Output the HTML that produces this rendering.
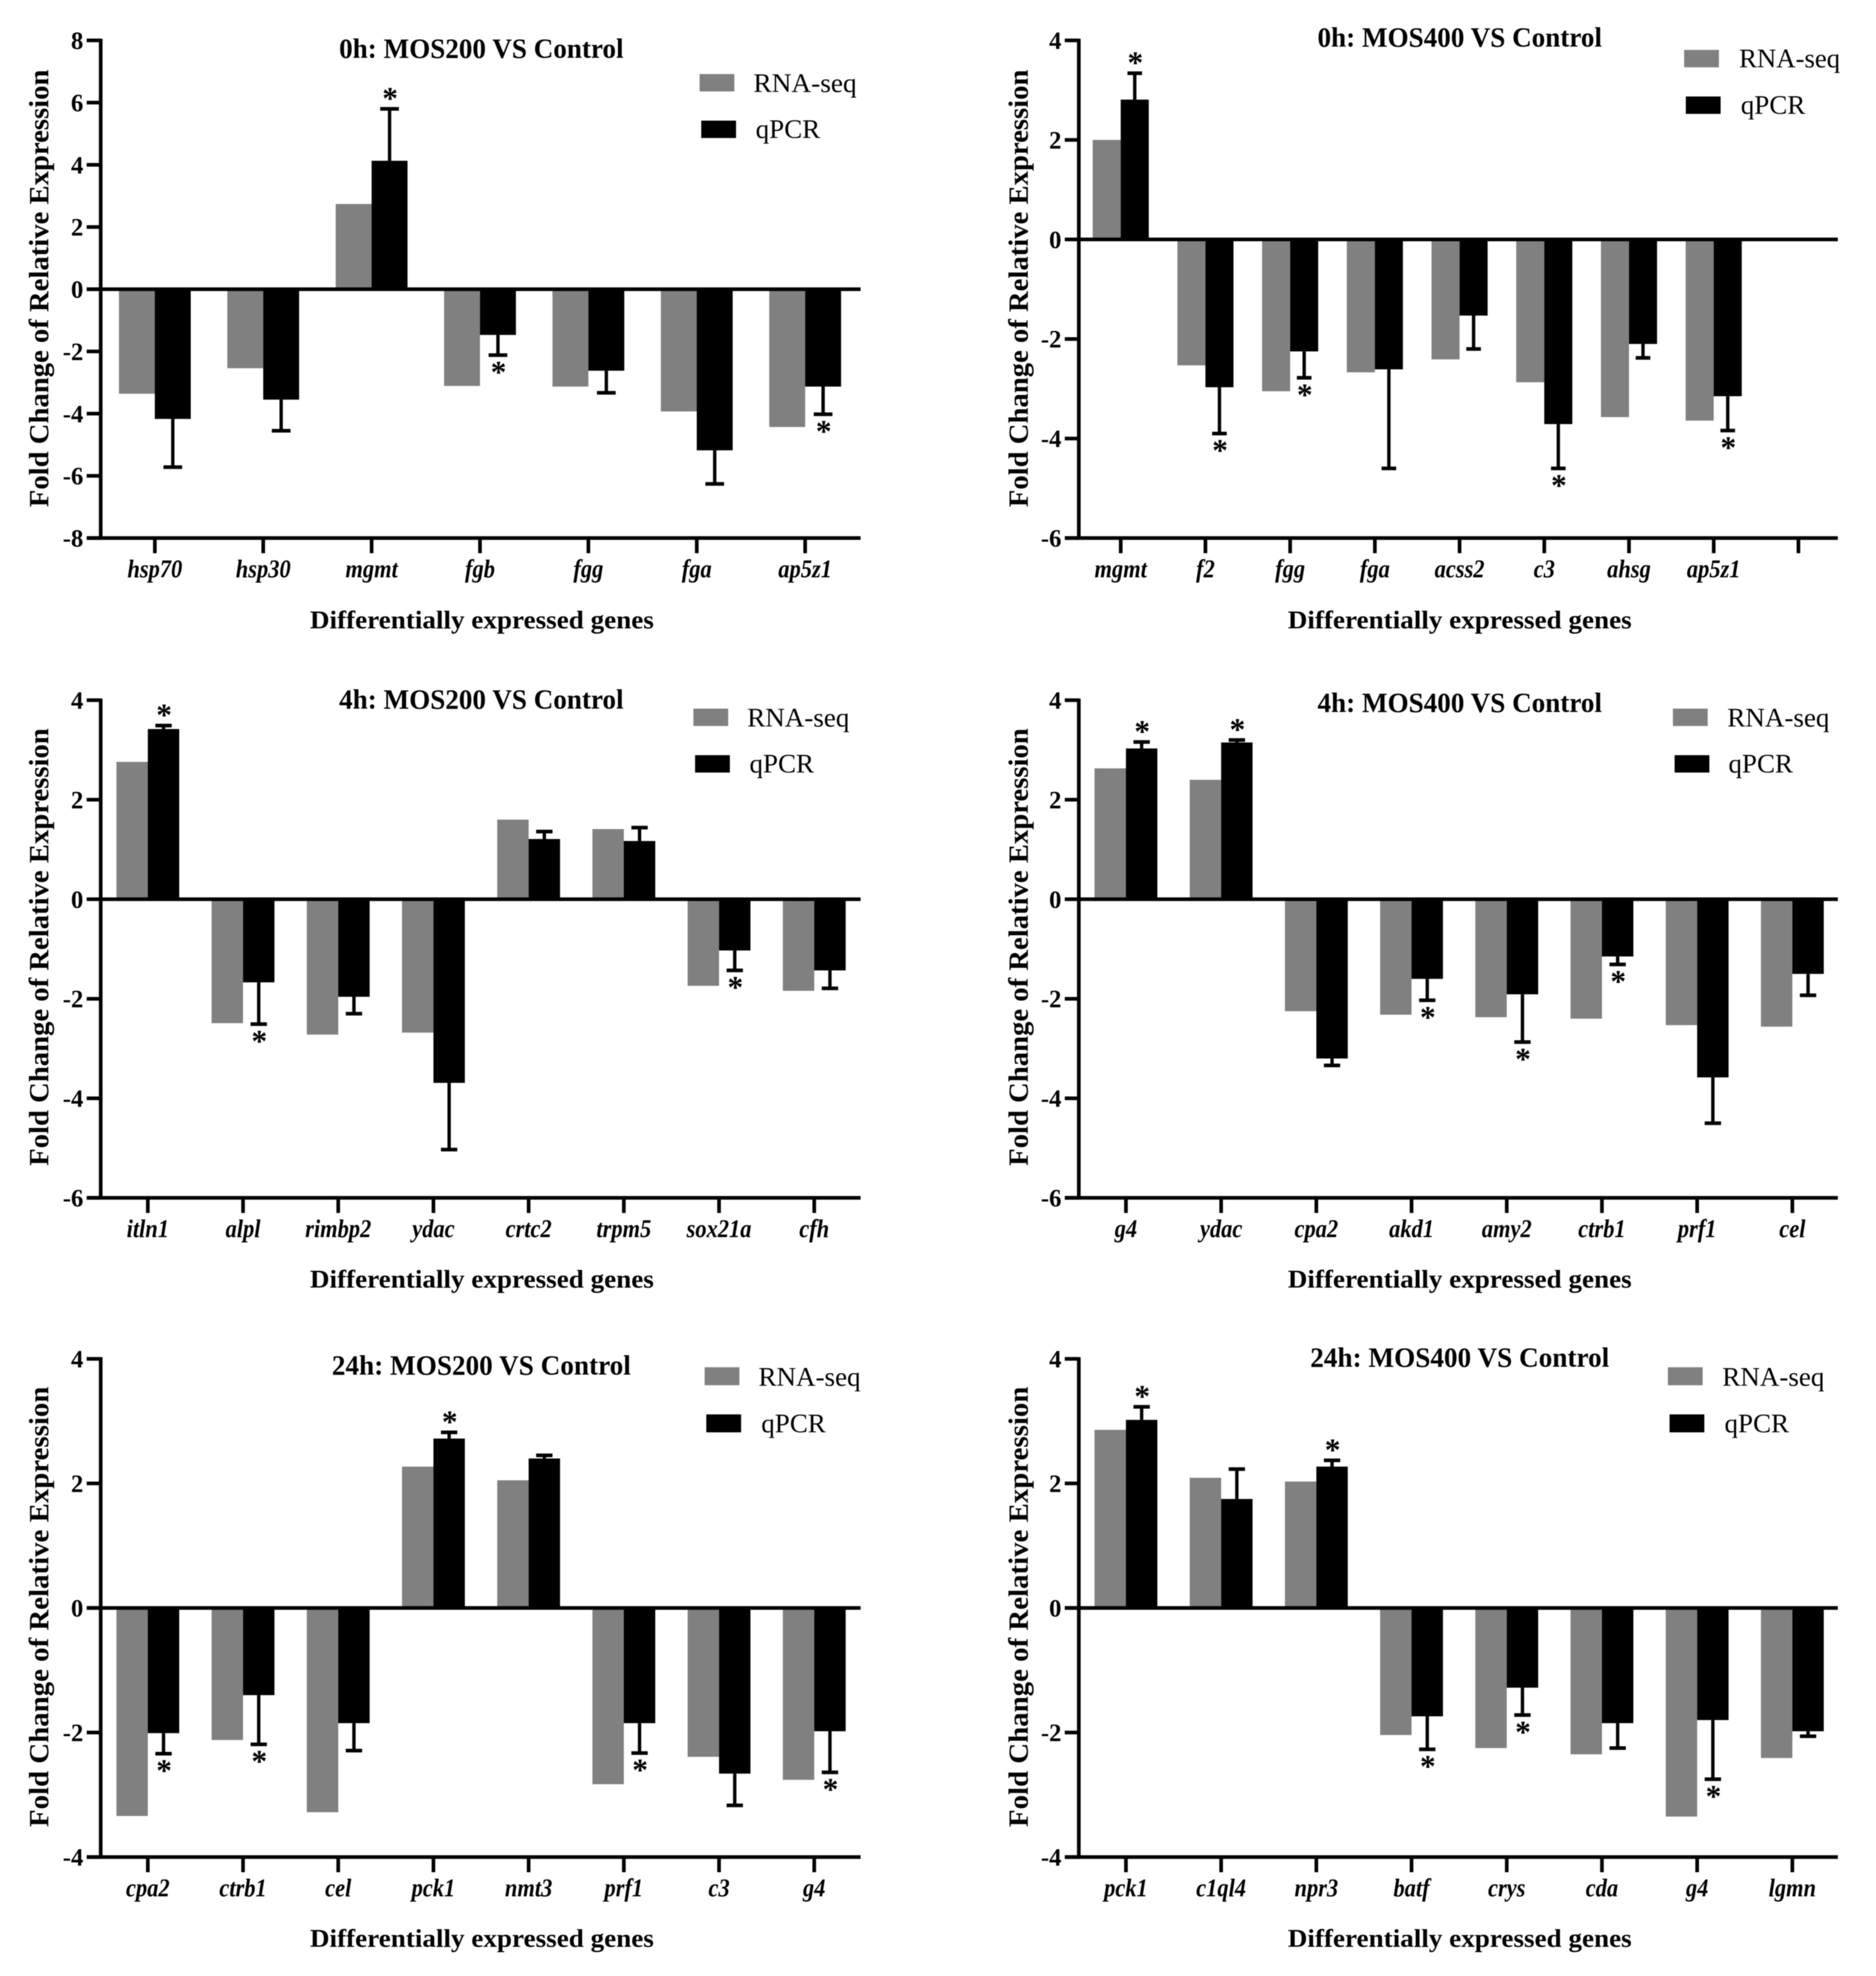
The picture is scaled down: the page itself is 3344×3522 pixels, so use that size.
<!DOCTYPE html>
<html lang="en">
<head>
<meta charset="utf-8">
<title>Fold change of relative expression: RNA-seq vs qPCR</title>
<style>
html,body{margin:0;padding:0;background:#fff;}
svg{display:block;filter:blur(0.7px);}
text{font-family:"Liberation Serif",serif;fill:#000;}
.b{font-weight:bold;}
</style>
</head>
<body>
<svg id="figure" xmlns="http://www.w3.org/2000/svg" width="3344" height="3522" viewBox="0 0 3344 3522">
<rect width="3344" height="3522" fill="#fff"/>
<g id="marks"></g>

<g>
<text class="b" x="858" y="103" font-size="50" text-anchor="middle" textLength="507" lengthAdjust="spacingAndGlyphs">0h: MOS200 VS Control</text>
<text class="b" x="859" y="1120" font-size="46" text-anchor="middle" textLength="613" lengthAdjust="spacingAndGlyphs">Differentially expressed genes</text>
<text class="b" transform="translate(86 514) rotate(-90)" font-size="50" text-anchor="middle" textLength="780" lengthAdjust="spacingAndGlyphs">Fold Change of Relative Expression</text>
<rect x="1247" y="132" width="62" height="31" fill="#808080"/>
<text x="1343" y="164" font-size="48" textLength="184" lengthAdjust="spacingAndGlyphs">RNA-seq</text>
<rect x="1250" y="215" width="62" height="31" fill="#000"/>
<text x="1347" y="246" font-size="48" textLength="115" lengthAdjust="spacingAndGlyphs">qPCR</text>
</g>

<g>
<text class="b" x="2602" y="83" font-size="50" text-anchor="middle" textLength="507" lengthAdjust="spacingAndGlyphs">0h: MOS400 VS Control</text>
<text class="b" x="2602" y="1120" font-size="46" text-anchor="middle" textLength="613" lengthAdjust="spacingAndGlyphs">Differentially expressed genes</text>
<text class="b" transform="translate(1832 514) rotate(-90)" font-size="50" text-anchor="middle" textLength="780" lengthAdjust="spacingAndGlyphs">Fold Change of Relative Expression</text>
<rect x="3002" y="89" width="62" height="31" fill="#808080"/>
<text x="3100" y="120" font-size="48" textLength="180" lengthAdjust="spacingAndGlyphs">RNA-seq</text>
<rect x="3005" y="172" width="62" height="31" fill="#000"/>
<text x="3103" y="203" font-size="48" textLength="115" lengthAdjust="spacingAndGlyphs">qPCR</text>
</g>

<g>
<text class="b" x="858" y="1263" font-size="50" text-anchor="middle" textLength="507" lengthAdjust="spacingAndGlyphs">4h: MOS200 VS Control</text>
<text class="b" x="859" y="2295" font-size="46" text-anchor="middle" textLength="613" lengthAdjust="spacingAndGlyphs">Differentially expressed genes</text>
<text class="b" transform="translate(86 1688) rotate(-90)" font-size="50" text-anchor="middle" textLength="780" lengthAdjust="spacingAndGlyphs">Fold Change of Relative Expression</text>
<rect x="1236" y="1263" width="62" height="31" fill="#808080"/>
<text x="1332" y="1295" font-size="48" textLength="182" lengthAdjust="spacingAndGlyphs">RNA-seq</text>
<rect x="1239" y="1346" width="62" height="31" fill="#000"/>
<text x="1336" y="1377" font-size="48" textLength="115" lengthAdjust="spacingAndGlyphs">qPCR</text>
</g>

<g>
<text class="b" x="2602" y="1269" font-size="50" text-anchor="middle" textLength="507" lengthAdjust="spacingAndGlyphs">4h: MOS400 VS Control</text>
<text class="b" x="2602" y="2295" font-size="46" text-anchor="middle" textLength="613" lengthAdjust="spacingAndGlyphs">Differentially expressed genes</text>
<text class="b" transform="translate(1832 1688) rotate(-90)" font-size="50" text-anchor="middle" textLength="780" lengthAdjust="spacingAndGlyphs">Fold Change of Relative Expression</text>
<rect x="2982" y="1263" width="62" height="31" fill="#808080"/>
<text x="3079" y="1295" font-size="48" textLength="182" lengthAdjust="spacingAndGlyphs">RNA-seq</text>
<rect x="2985" y="1346" width="62" height="31" fill="#000"/>
<text x="3081" y="1377" font-size="48" textLength="115" lengthAdjust="spacingAndGlyphs">qPCR</text>
</g>

<g>
<text class="b" x="858" y="2450" font-size="50" text-anchor="middle" textLength="533" lengthAdjust="spacingAndGlyphs">24h: MOS200 VS Control</text>
<text class="b" x="859" y="3470" font-size="46" text-anchor="middle" textLength="613" lengthAdjust="spacingAndGlyphs">Differentially expressed genes</text>
<text class="b" transform="translate(86 2864) rotate(-90)" font-size="50" text-anchor="middle" textLength="785" lengthAdjust="spacingAndGlyphs">Fold Change of Relative Expression</text>
<rect x="1256" y="2437" width="62" height="32" fill="#808080"/>
<text x="1352" y="2470" font-size="48" textLength="182" lengthAdjust="spacingAndGlyphs">RNA-seq</text>
<rect x="1259" y="2521" width="62" height="32" fill="#000"/>
<text x="1357" y="2553" font-size="48" textLength="115" lengthAdjust="spacingAndGlyphs">qPCR</text>
</g>

<g>
<text class="b" x="2602" y="2436" font-size="50" text-anchor="middle" textLength="533" lengthAdjust="spacingAndGlyphs">24h: MOS400 VS Control</text>
<text class="b" x="2602" y="3470" font-size="46" text-anchor="middle" textLength="613" lengthAdjust="spacingAndGlyphs">Differentially expressed genes</text>
<text class="b" transform="translate(1832 2864) rotate(-90)" font-size="50" text-anchor="middle" textLength="785" lengthAdjust="spacingAndGlyphs">Fold Change of Relative Expression</text>
<rect x="2973" y="2437" width="62" height="32" fill="#808080"/>
<text x="3070" y="2470" font-size="48" textLength="182" lengthAdjust="spacingAndGlyphs">RNA-seq</text>
<rect x="2976" y="2521" width="62" height="32" fill="#000"/>
<text x="3074" y="2553" font-size="48" textLength="115" lengthAdjust="spacingAndGlyphs">qPCR</text>
</g>
</svg>

<script>
// ---- data: 0h MOS200 ----
const genes0h200 = ['hsp70','hsp30','mgmt','fgb','fgg','fga','ap5z1'];
const rna0h200 = [-3.36,-2.54,2.74,-3.11,-3.13,-3.93,-4.43];
const qpcr0h200 = [-4.17,-3.55,4.13,-1.47,-2.62,-5.18,-3.13];
const err0h200 = [-5.72,-4.55,5.8,-2.12,-3.33,-6.26,-4.02];
const sig0h200 = [0,0,1,1,0,0,1];
const ticks0h200 = [8,6,4,2,0,-2,-4,-6,-8];

// ---- data: 0h MOS400 ----
const genes0h400 = ['mgmt','f2','fgg','fga','acss2','c3','ahsg','ap5z1'];
const rna0h400 = [2.0,-2.53,-3.05,-2.67,-2.41,-2.87,-3.57,-3.64];
const qpcr0h400 = [2.81,-2.97,-2.25,-2.61,-1.53,-3.71,-2.10,-3.15];
const err0h400 = [3.34,-3.9,-2.78,-4.6,-2.2,-4.6,-2.38,-3.84];
const sig0h400 = [1,1,1,0,0,1,0,1];
const ticks0h400 = [4,2,0,-2,-4,-6];

// ---- data: 4h MOS200 ----
const genes4h200 = ['itln1','alpl','rimbp2','ydac','crtc2','trpm5','sox21a','cfh'];
const rna4h200 = [2.76,-2.49,-2.72,-2.68,1.6,1.41,-1.74,-1.84];
const qpcr4h200 = [3.42,-1.67,-1.96,-3.69,1.21,1.17,-1.03,-1.43];
const err4h200 = [3.49,-2.51,-2.30,-5.03,1.36,1.44,-1.43,-1.79];
const sig4h200 = [1,1,0,0,0,0,1,0];
const ticks4h200 = [4,2,0,-2,-4,-6];

// ---- data: 4h MOS400 ----
const genes4h400 = ['g4','ydac','cpa2','akd1','amy2','ctrb1','prf1','cel'];
const rna4h400 = [2.63,2.40,-2.25,-2.32,-2.37,-2.4,-2.53,-2.56];
const qpcr4h400 = [3.03,3.15,-3.2,-1.6,-1.91,-1.15,-3.58,-1.5];
const err4h400 = [3.16,3.2,-3.34,-2.03,-2.87,-1.31,-4.5,-1.93];
const sig4h400 = [1,1,0,1,1,1,0,0];
const ticks4h400 = [4,2,0,-2,-4,-6];

// ---- data: 24h MOS200 ----
const genes24h200 = ['cpa2','ctrb1','cel','pck1','nmt3','prf1','c3','g4'];
const rna24h200 = [-3.34,-2.12,-3.28,2.27,2.05,-2.83,-2.39,-2.76];
const qpcr24h200 = [-2.01,-1.40,-1.85,2.72,2.40,-1.85,-2.66,-1.98];
const err24h200 = [-2.34,-2.19,-2.29,2.82,2.45,-2.33,-3.17,-2.64];
const sig24h200 = [1,1,0,1,0,1,0,1];
const ticks24h200 = [4,2,0,-2,-4];

// ---- data: 24h MOS400 ----
const genes24h400 = ['pck1','c1ql4','npr3','batf','crys','cda','g4','lgmn'];
const rna24h400 = [2.86,2.09,2.03,-2.04,-2.25,-2.35,-3.35,-2.41];
const qpcr24h400 = [3.02,1.75,2.27,-1.74,-1.28,-1.85,-1.8,-1.98];
const err24h400 = [3.23,2.23,2.37,-2.27,-1.72,-2.25,-2.75,-2.06];
const sig24h400 = [1,0,1,1,1,0,1,0];
const ticks24h400 = [4,2,0,-2,-4];

const NS = 'http://www.w3.org/2000/svg';
const root = document.getElementById('marks');

function make(parent, tag, props) {
  const el = document.createElementNS(NS, tag);
  for (const k in props) el.setAttribute(k, props[k]);
  parent.appendChild(el);
  return el;
}

function drawPanel(p) {
  const g = make(root, 'g', {});
  
  

  const maxV = p.ticks[0];
  const minV = p.ticks[p.ticks.length - 1];
  const yScale = function (v) { return p.top + (maxV - v) / (maxV - minV) * (p.bottom - p.top); };
  const xScale = function (i) { return p.first + i * p.step; };
  const y0 = yScale(0);

  p.genes.forEach(function (gene, i) {
    const cx = xScale(i);

    const yR = yScale(p.rna[i]);
    const rBar = make(g, 'rect', {x: cx - p.barW, y: Math.min(y0, yR), width: p.barW, height: Math.abs(y0 - yR), fill: '#808080'});
    
    

    const yQ = yScale(p.qpcr[i]);
    const qBar = make(g, 'rect', {x: cx, y: Math.min(y0, yQ), width: p.barW, height: Math.abs(y0 - yQ), fill: '#000'});
    
    

    const ex = cx + p.barW / 2;
    const yE = yScale(p.err[i]);
    const stem = make(g, 'line', {x1: ex, x2: ex, y1: yQ, y2: yE, stroke: '#000', 'stroke-width': 6});
    
    

    const cap = make(g, 'line', {x1: ex - p.barW * 0.26, x2: ex + p.barW * 0.26, y1: yE, y2: yE, stroke: '#000', 'stroke-width': 6.5});
    
    

    if (p.sig[i]) {
      const up = p.err[i] > 0;
      const starY = (up ? yE - 26 : yE + 23) + 26;
      const star = make(g, 'text', {x: ex + 1, y: starY, 'font-size': 56, 'font-weight': 'bold', 'text-anchor': 'middle'});
      star.textContent = '*';
      
      
    }

    const label = make(g, 'text', {x: cx, y: p.bottom + 70, 'font-size': 40, 'font-weight': 'bold', 'font-style': 'italic', 'text-anchor': 'middle'});
    label.textContent = gene;
    
    
    const naturalWidth = label.getComputedTextLength();
    label.setAttribute('font-size', 45);
    label.setAttribute('textLength', naturalWidth);
    label.setAttribute('lengthAdjust', 'spacingAndGlyphs');
  });

  const yAxis = make(g, 'line', {x1: p.left, x2: p.left, y1: p.top - 3, y2: p.bottom + 3, stroke: '#000', 'stroke-width': 6.5});
  
  

  const xAxis = make(g, 'line', {x1: p.left - 25, x2: p.right, y1: p.bottom, y2: p.bottom, stroke: '#000', 'stroke-width': 6.5});
  
  

  const zero = make(g, 'line', {x1: p.left - 25, x2: p.right, y1: y0, y2: y0, stroke: '#000', 'stroke-width': 6.5});
  
  

  p.ticks.forEach(function (t) {
    const yT = yScale(t);
    const tick = make(g, 'line', {x1: p.left - 25, x2: p.left, y1: yT, y2: yT, stroke: '#000', 'stroke-width': 6.5});
    
    

    const lab = make(g, 'text', {x: p.left - 31, y: yT + 15, 'font-size': 44, 'font-weight': 'bold', 'text-anchor': 'end'});
    lab.textContent = String(t);
    
    
  });

  for (let i = 0; i < p.slots; i++) {
    const xT = xScale(i);
    const tick = make(g, 'line', {x1: xT, x2: xT, y1: p.bottom, y2: p.bottom + 27, stroke: '#000', 'stroke-width': 6.5});
    
    
  }
}

drawPanel({name:'0h-mos200', genes:genes0h200, rna:rna0h200, qpcr:qpcr0h200, err:err0h200, sig:sig0h200, ticks:ticks0h200,
  left:179.5, right:1534, top:72, bottom:959, first:276, step:193.2, barW:64, slots:7});
drawPanel({name:'0h-mos400', genes:genes0h400, rna:rna0h400, qpcr:qpcr0h400, err:err0h400, sig:sig0h400, ticks:ticks0h400,
  left:1923, right:3276, top:72, bottom:959, first:1997.7, step:151, barW:50, slots:9});
drawPanel({name:'4h-mos200', genes:genes4h200, rna:rna4h200, qpcr:qpcr4h200, err:err4h200, sig:sig4h200, ticks:ticks4h200,
  left:179.5, right:1534, top:1248, bottom:2135, first:263.5, step:169.7, barW:56, slots:8});
drawPanel({name:'4h-mos400', genes:genes4h400, rna:rna4h400, qpcr:qpcr4h400, err:err4h400, sig:sig4h400, ticks:ticks4h400,
  left:1923, right:3276, top:1248, bottom:2135, first:2007, step:169.7, barW:56, slots:8});
drawPanel({name:'24h-mos200', genes:genes24h200, rna:rna24h200, qpcr:qpcr24h200, err:err24h200, sig:sig24h200, ticks:ticks24h200,
  left:179.5, right:1534, top:2422, bottom:3310, first:263.5, step:169.7, barW:56, slots:8});
drawPanel({name:'24h-mos400', genes:genes24h400, rna:rna24h400, qpcr:qpcr24h400, err:err24h400, sig:sig24h400, ticks:ticks24h400,
  left:1923, right:3276, top:2422, bottom:3310, first:2007, step:169.7, barW:56, slots:8});
</script>
</body>
</html>
